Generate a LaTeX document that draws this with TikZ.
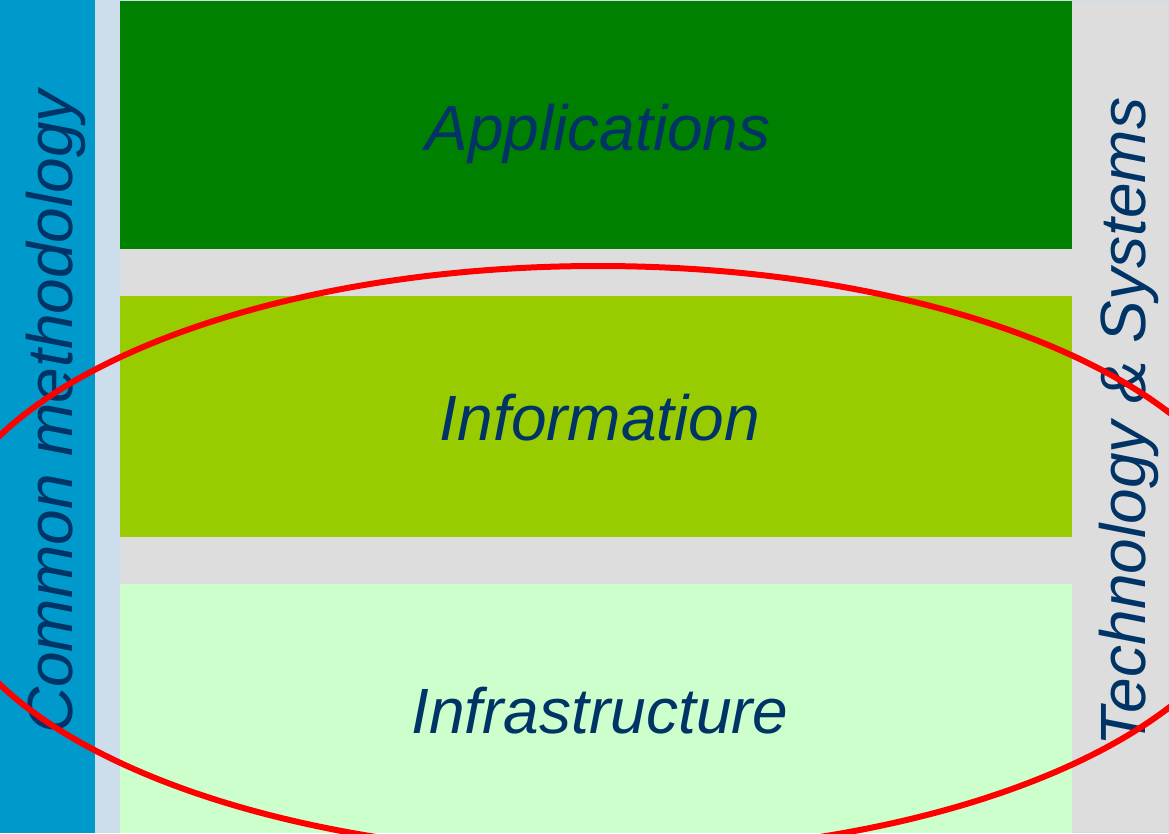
\documentclass[tikz,border=0pt]{standalone}
\usepackage{fontspec}
\setmainfont{Liberation Sans}
\definecolor{paleblue}{HTML}{CCDDEB}
\definecolor{barblue}{HTML}{0099CC}
\definecolor{panelgrey}{HTML}{DDDDDD}
\definecolor{navy}{HTML}{003366}
\definecolor{appgreen}{HTML}{008000}
\definecolor{infolime}{HTML}{99CC00}
\definecolor{infrapale}{HTML}{CCFFCC}
\begin{document}
\begin{tikzpicture}[x=1pt,y=-1pt,
  layer/.style={draw=none,inner sep=0pt,outer sep=0pt},
  label/.style={text=navy,font=\fontsize{64}{70}\selectfont\itshape,inner sep=0pt},
  sidelabel/.style={label,rotate=90,anchor=base}]
  % page and side panels
  \fill[paleblue] (0,0) rectangle (1169,833);
  \useasboundingbox (0,0) rectangle (1169,833);
  \fill[barblue] (0,0) rectangle (95,833);
  \fill[panelgrey] (120,1) rectangle (1168,832);
  % the three layers
  \node[layer,fill=appgreen,minimum width=952pt,minimum height=248pt,anchor=north west] (apps) at (120,1) {};
  \node[layer,fill=infolime,minimum width=952pt,minimum height=241pt,anchor=north west] (info) at (120,296) {};
  \node[layer,fill=infrapale,minimum width=952pt,minimum height=249pt,anchor=north west] (infra) at (120,584) {};
  \node[label,anchor=base] (tapps) at (598,150) {Applications};
  \node[label,anchor=base] (tinfo) at (600,440) {Information};
  \node[label,anchor=base] (tinfra) at (600,733) {Infrastructure};
  % side captions
  \node[sidelabel] (method) at (72,412) {Common methodology};
  \node[sidelabel] (tech) at (1145,422) {Technology \& Systems};
  % highlight ring
  \draw[red,line width=6pt] (598,560) ellipse [x radius=660, y radius=294];
\end{tikzpicture}
\end{document}
